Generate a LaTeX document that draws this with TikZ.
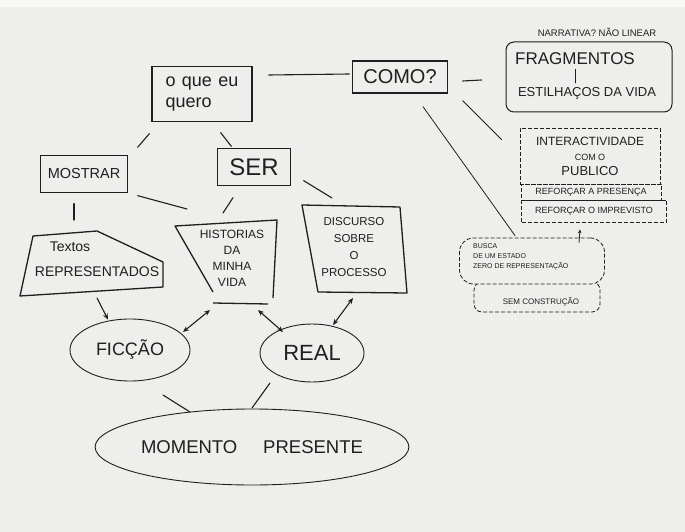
\documentclass[tikz,border=0pt]{standalone}
\usepackage{fontspec}
\setmainfont{Liberation Sans}
\usetikzlibrary{shapes.geometric,arrows.meta}
\definecolor{ink}{HTML}{1F1F1F}
\definecolor{paper}{HTML}{EEEEEC}
\newcommand{\fsz}[2]{\fontsize{#1}{#2}\selectfont}
\begin{document}
\begin{tikzpicture}[x=1pt,y=-1pt,
 box/.style={draw=ink,line width=1.3pt,inner sep=0pt,align=center,text=ink},
 dbox/.style={draw=ink,line width=0.8pt,dash pattern=on 4pt off 2pt,inner sep=0pt,align=center,text=ink},
 oval/.style={draw=ink,line width=0.9pt,ellipse,inner sep=0pt,text=ink},
 txt/.style={inner sep=0pt,align=center,text=ink},
 shape line/.style={draw=ink,line width=1.3pt,line join=round},
 conn/.style={draw=ink,line width=1.1pt,line cap=round},
 thinline/.style={draw=ink,line width=0.8pt,line cap=round},
 arr/.style={conn,-{Stealth[length=6pt,width=5pt]}},
 dbl/.style={conn,{Stealth[length=6pt,width=5pt]}-{Stealth[length=6pt,width=5pt]}}]
\fill[paper] (0,0) rectangle (685,532);
\fill[white!60!paper] (0,0) rectangle (685,7);
\useasboundingbox (0,0) rectangle (685,532);

% ---- top boxes
\node[box,minimum width=100pt,minimum height=55pt,align=left,font=\fsz{18}{21}] (quero) at (202,94) {o\hspace{0.35em}que\hspace{0.35em}eu\\quero};
\node[box,minimum width=95pt,minimum height=32pt,font=\fsz{20}{24}] (como) at (400,77) {COMO?};

\node[txt,font=\fsz{9.5}{11}] (narr) at (597,32) {NARRATIVA? NÃO LINEAR};
\node[box,line width=1pt,rounded corners=8pt,minimum width=166pt,minimum height=70pt] (frag) at (589,77) {};
\node[txt,font=\fsz{17}{20}] (fragt) at (575,59) {FRAGMENTOS};
\node[txt,font=\fsz{13}{15}] (estil) at (587,93) {ESTILHAÇOS DA VIDA};
\draw[thinline,shorten <=4pt,shorten >=4pt] (fragt.south) -- (fragt.south |- estil.north);

% ---- right column
\node[dbox,minimum width=140pt,minimum height=56pt,font=\fsz{12}{15}] (inter) at (590,156)
  {INTERACTIVIDADE\\{\fsz{9}{10}COM O}\\{\fsz{13}{15}PUBLICO}};
\node[dbox,minimum width=140pt,minimum height=16pt,font=\fsz{9}{10}] (pres) at (591,192) {REFORÇAR A PRESENÇA};
\node[dbox,minimum width=145pt,minimum height=22pt,font=\fsz{9}{10}] (impr) at (594,211) {REFORÇAR O IMPREVISTO};
\node[dbox,rounded corners=8pt,minimum width=126pt,minimum height=30pt] (sem) at (537,297) {};
\node[txt,font=\fsz{8}{10}] (semt) at (541,302) {SEM CONSTRUÇÃO};
\node[dbox,rounded corners=14pt,minimum width=145pt,minimum height=46pt,fill=paper] (busca) at (532,261) {};
\node[txt,align=left,anchor=north west,font=\fsz{7}{10}] (buscat) at (473,243) {BUSCA\\DE UM ESTADO\\ZERO DE REPRESENTAÇÃO};

% ---- middle boxes
\node[box,minimum width=87pt,minimum height=37pt,font=\fsz{14.5}{17}] (mostrar) at (84,174) {MOSTRAR};
\node[box,minimum width=73pt,minimum height=37pt,font=\fsz{24}{26}] (ser) at (254,167) {SER};

% Textos representados (irregular quadrilateral)
\coordinate (t1) at (33,236);
\coordinate (t2) at (97,231);
\coordinate (t3) at (163,262);
\coordinate (t4) at (163,287);
\coordinate (t5) at (20,296);
\draw[shape line] (t1) -- (t2) -- (t3) -- (t4) -- (t5) -- cycle;
\node[txt,font=\fsz{14}{16}] (textosA) at (70,247) {Textos};
\node[txt,font=\fsz{14}{16}] (textosB) at (97,272) {REPRESENTADOS};

% Historias da minha vida
\coordinate (h1) at (175,226);
\coordinate (h2) at (277,220);
\coordinate (h3) at (273,298);
\coordinate (h4) at (213,292);
\coordinate (hb1) at (213,303);
\coordinate (hb2) at (268,304);
\draw[shape line] (h4) -- (h1) -- (h2) -- (h3);
\draw[shape line] (hb1) -- (hb2);
\node[txt,font=\fsz{12}{16}] (hist) at (232,258) {HISTORIAS\\DA\\MINHA\\VIDA};

% Discurso sobre o processo
\coordinate (d1) at (302,205);
\coordinate (d2) at (400,207);
\coordinate (d3) at (407,293);
\coordinate (d4) at (318,292);
\draw[shape line] (d1) -- (d2) -- (d3) -- (d4) -- cycle;
\node[txt,font=\fsz{11.5}{17}] (disc) at (354,247) {DISCURSO\\SOBRE\\O\\PROCESSO};

% ---- ovals
\node[oval,minimum width=120pt,minimum height=62pt,font=\fsz{18}{20}] (ficcao) at (130,350) {FICÇÃO};
\node[oval,minimum width=104pt,minimum height=58pt,font=\fsz{22}{24}] (real) at (312,353) {REAL};
\node[oval,minimum width=284pt,minimum height=76pt,font=\fsz{18.5}{20}] (momento) at (252,447) {MOMENTO\hspace{1.4em}PRESENTE};

% ---- connectors
\draw[conn] ([shift={(16pt,19pt)}]quero.east) -- ([shift={(-2.5pt,3pt)}]como.west);
\draw[conn] ([shift={(14.5pt,-4pt)}]como.east) -- ([shift={(-24pt,-3pt)}]frag.west);
\draw[thinline] ([shift={(14.5pt,-7pt)}]como.south east) -- ([shift={(-18pt,-12pt)}]inter.north west);
\draw[thinline] ([shift={(23pt,-13pt)}]como.south) -- ([shift={(-17pt,2pt)}]busca.north);
\draw[thinline,-{Stealth[length=4pt,width=3.5pt]}] ([shift={(47pt,-5pt)}]busca.north) -- ([shift={(-14pt,-7pt)}]impr.south);

\draw[conn] ([shift={(-2pt,-11.5pt)}]quero.south west) -- ([shift={(9.5pt,7.5pt)}]mostrar.north east);
\draw[conn] ([shift={(-32pt,-10.5pt)}]quero.south east) -- ([shift={(14.5pt,1.5pt)}]ser.north west);
\draw[conn] ([shift={(9.5pt,-2.5pt)}]mostrar.south east) -- ([shift={(12pt,17pt)}]h1);
\draw[conn] ([shift={(-21pt,-11.5pt)}]ser.south) -- ([shift={(48pt,13pt)}]h1);
\draw[conn] ([shift={(12.5pt,5.5pt)}]ser.south east) -- ([shift={(30pt,7pt)}]d1);
\draw[conn] ([shift={(-10pt,-10.5pt)}]mostrar.south) -- ([shift={(41pt,16pt)}]t1);

\draw[arr] ([shift={(77pt,-2pt)}]t5) -- ([shift={(-22pt,-1pt)}]ficcao.north);
\draw[dbl] ([shift={(-3pt,-7pt)}]hb1) -- ([shift={(53pt,18pt)}]ficcao.center);
\draw[dbl] ([shift={(-10pt,-6pt)}]hb2) -- ([shift={(-29pt,21pt)}]real.center);
\draw[dbl] ([shift={(35pt,-6pt)}]d4) -- ([shift={(21pt,28pt)}]real.center);

\draw[conn] ([shift={(33pt,-45pt)}]ficcao.center) -- ([shift={(-62pt,35pt)}]momento.center);
\draw[conn] ([shift={(-42pt,-30pt)}]real.center) -- ([shift={(0pt,39pt)}]momento.center);
\end{tikzpicture}
\end{document}
